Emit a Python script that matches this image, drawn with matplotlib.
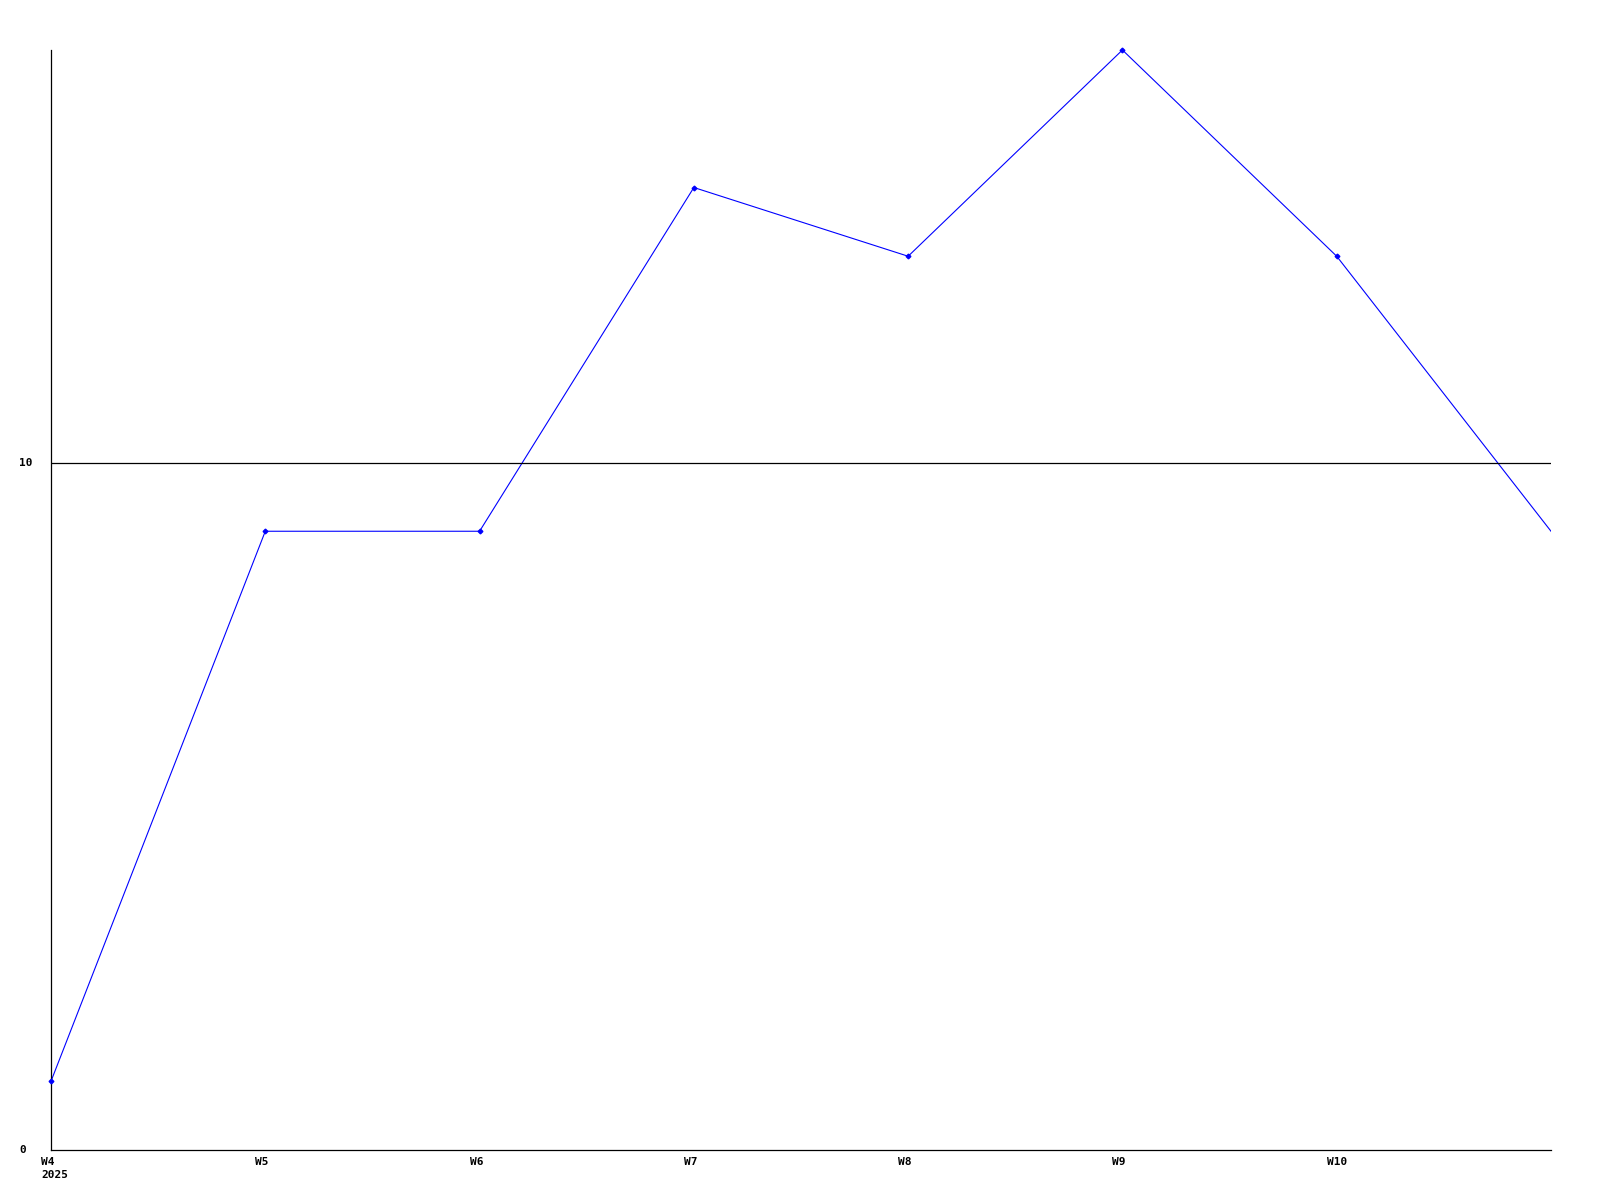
import matplotlib

matplotlib.use("Agg")
import matplotlib.pyplot as plt
import matplotlib.transforms as mtransforms
import numpy as np

weeks = ["W4", "W5", "W6", "W7", "W8", "W9", "W10", "W11"]
values = [1, 9, 9, 14, 13, 16, 13, 9]
year_label = "2025"
y_ticks = [0, 10]

FONT = dict(family="DejaVu Sans Mono", weight="bold", size=8)

fig = plt.figure(figsize=(16, 12), dpi=100)
ax = fig.add_axes([51 / 1600, 1 - 1150 / 1200, 1500 / 1600, 1100 / 1200])

x = np.arange(len(weeks))
ax.plot(x, values, color="#0000ff", linewidth=0.8)
# markers on all but the last point, not clipped at the edges
ax.plot(x[:-1], values[:-1], linestyle="none", color="#0000ff", marker="D",
        markersize=2.4, clip_on=False, zorder=3)

ax.set_xlim(0, len(weeks) - 1)
ax.set_ylim(0, 16)

for s in ["top", "right"]:
    ax.spines[s].set_visible(False)
for s in ["left", "bottom"]:
    ax.spines[s].set_linewidth(0.9)

ax.axhline(10, color="black", linewidth=0.9)

ax.set_xticks([])
ax.set_yticks([])

# y labels, left aligned near the figure edge
ytrans = mtransforms.blended_transform_factory(fig.transFigure, ax.transData)
for v in y_ticks:
    fig.text(19 / 1600, v, str(v), transform=ytrans, ha="left", va="center", **FONT)

# x labels, start a little left of each tick
off = mtransforms.offset_copy(ax.transData, fig=fig, x=-10, y=0, units="dots")
xtrans = mtransforms.blended_transform_factory(off, ax.transAxes)
for i, w in enumerate(weeks[:-1]):
    label = w + "\n" + year_label if i == 0 else w
    ax.text(i, -0.006, label, transform=xtrans, ha="left", va="top",
            linespacing=1.4, **FONT)

fig.savefig("out.png", dpi=100, facecolor="white")
